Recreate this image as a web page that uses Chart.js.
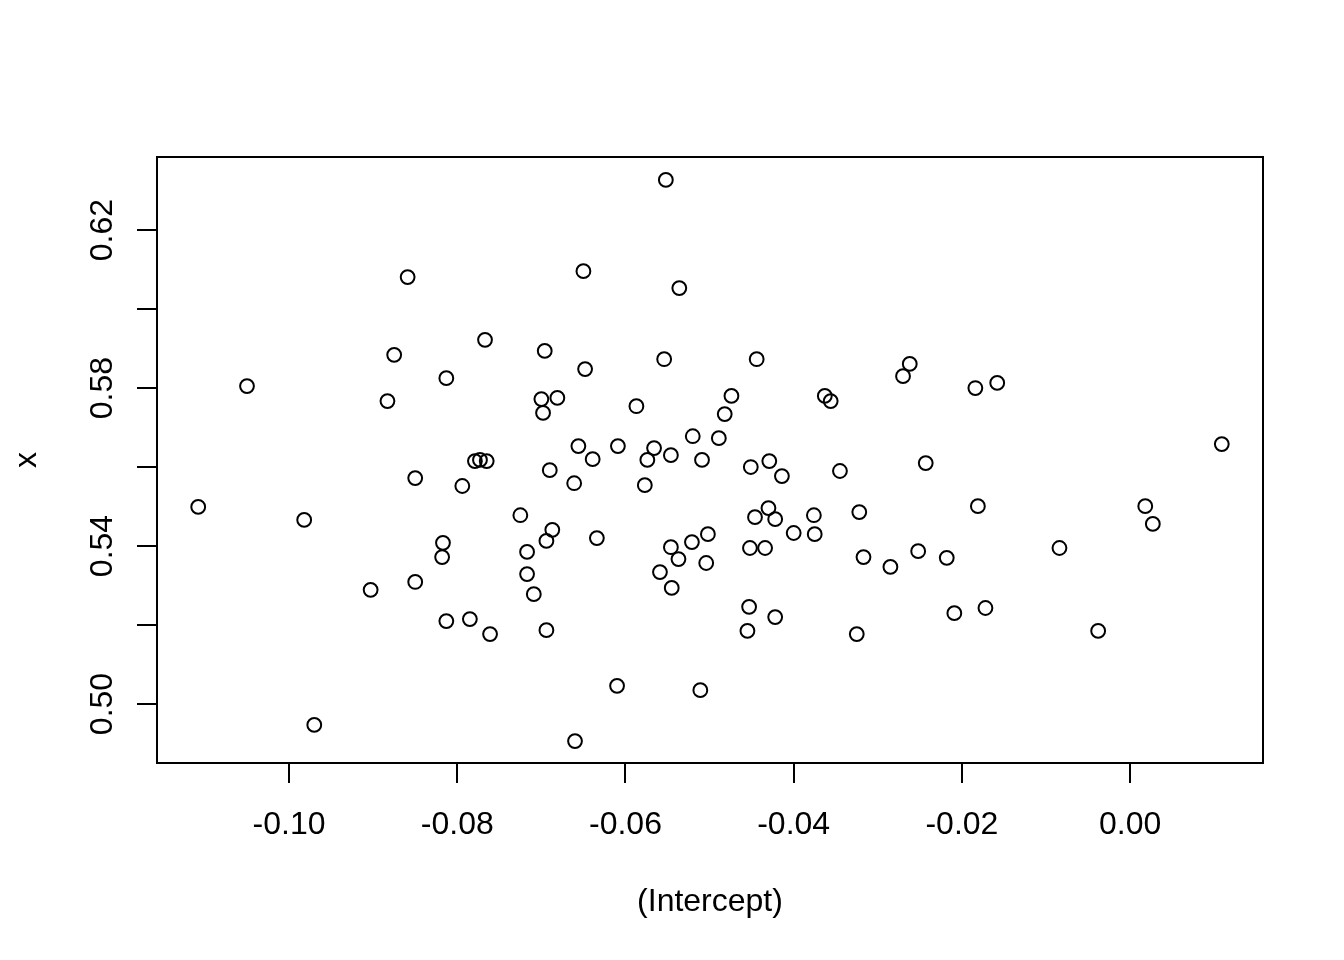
<!DOCTYPE html>
<html>
<head>
<meta charset="utf-8">
<script src="https://cdn.jsdelivr.net/npm/chart.js@4/dist/chart.umd.min.js"></script>
<style>
  html, body { margin: 0; padding: 0; background: #fff; }
  canvas { display: block; }
</style>
</head>
<body>
<canvas id="plot" width="1344" height="960"></canvas>
<script>
// values, one point per pair
const interceptValues = [
  -0.1108, -0.1050, -0.0982, -0.0970, -0.0903, -0.0883, -0.0875, -0.0859, -0.0850, -0.0850,
  -0.0817, -0.0818, -0.0813, -0.0813, -0.0794, -0.0785, -0.0779, -0.0773, -0.0765, -0.0767,
  -0.0761, -0.0725, -0.0717, -0.0717, -0.0709, -0.0700, -0.0698, -0.0696, -0.0694, -0.0694,
  -0.0690, -0.0687, -0.0681, -0.0661, -0.0660, -0.0656, -0.0650, -0.0648, -0.0639, -0.0634,
  -0.0610, -0.0609, -0.0587, -0.0577, -0.0574, -0.0566, -0.0559, -0.0554, -0.0552, -0.0546,
  -0.0546, -0.0545, -0.0537, -0.0536, -0.0521, -0.0520, -0.0511, -0.0509, -0.0504, -0.0502,
  -0.0489, -0.0482, -0.0474, -0.0455, -0.0453, -0.0452, -0.0451, -0.0446, -0.0444, -0.0434,
  -0.0430, -0.0429, -0.0422, -0.0422, -0.0414, -0.0400, -0.0376, -0.0375, -0.0363, -0.0356,
  -0.0345, -0.0325, -0.0322, -0.0317, -0.0285, -0.0270, -0.0262, -0.0252, -0.0243, -0.0218,
  -0.0209, -0.0184, -0.0181, -0.0172, -0.0158, -0.0084, -0.0038, 0.0018, 0.0027, 0.0109
];
const xValues = [
  0.5499, 0.5805, 0.5466, 0.4947, 0.5289, 0.5767, 0.5884, 0.6081, 0.5572, 0.5309,
  0.5408, 0.5372, 0.5825, 0.5210, 0.5552, 0.5215, 0.5615, 0.5618, 0.5615, 0.5922,
  0.5177, 0.5478, 0.5385, 0.5329, 0.5278, 0.5772, 0.5737, 0.5894, 0.5413, 0.5187,
  0.5592, 0.5441, 0.5775, 0.5559, 0.4906, 0.5653, 0.6096, 0.5848, 0.5620, 0.5420,
  0.5046, 0.5653, 0.5754, 0.5554, 0.5618, 0.5648, 0.5334, 0.5873, 0.6327, 0.5397,
  0.5630, 0.5294, 0.5367, 0.6053, 0.5410, 0.5678, 0.5035, 0.5618, 0.5357, 0.5430,
  0.5673, 0.5734, 0.5780, 0.5185, 0.5246, 0.5395, 0.5600, 0.5473, 0.5873, 0.5395,
  0.5496, 0.5615, 0.5468, 0.5220, 0.5577, 0.5433, 0.5478, 0.5430, 0.5780, 0.5767,
  0.5590, 0.5177, 0.5486, 0.5372, 0.5347, 0.5830, 0.5861, 0.5387, 0.5610, 0.5370,
  0.5230, 0.5800, 0.5501, 0.5243, 0.5813, 0.5395, 0.5185, 0.5501, 0.5456, 0.5658
];

const xTicks = [-0.10, -0.08, -0.06, -0.04, -0.02, 0.00];
const yTicks = [0.50, 0.52, 0.54, 0.56, 0.58, 0.60, 0.62];
const yLabelTicks = [0.50, 0.54, 0.58, 0.62];

const FONT = 'Liberation Sans, Arial, Helvetica, sans-serif';

// box round the plot region, like R's box()
const boxPlugin = {
  id: 'box',
  afterDraw(chart) {
    const { ctx, chartArea: a } = chart;
    ctx.save();
    ctx.strokeStyle = '#000';
    ctx.lineWidth = 2;
    ctx.strokeRect(a.left, a.top, a.right - a.left, a.bottom - a.top);
    ctx.restore();
  }
};

// y tick labels are turned 90 degrees in R (las = 0)
const yLabelPlugin = {
  id: 'yLabels',
  afterDraw(chart) {
    const { ctx } = chart;
    const ys = chart.scales.y;
    ctx.save();
    ctx.fillStyle = '#000';
    ctx.font = '32px ' + FONT;
    ctx.textAlign = 'center';
    ctx.textBaseline = 'alphabetic';
    yLabelTicks.forEach(v => {
      ctx.save();
      ctx.translate(112, ys.getPixelForValue(v));
      ctx.rotate(-Math.PI / 2);
      ctx.fillText(v.toFixed(2), 0, 0);
      ctx.restore();
    });
    ctx.restore();
  }
};

new Chart(document.getElementById('plot'), {
  type: 'scatter',
  data: {
    datasets: [{
      data: interceptValues.map((v, i) => ({ x: v, y: xValues[i] })),
      pointStyle: 'circle',
      pointRadius: 6.9,
      pointHoverRadius: 6.9,
      borderWidth: 2,
      borderColor: '#000',
      backgroundColor: 'rgba(0,0,0,0)',
      clip: false
    }]
  },
  options: {
    responsive: false,
    animation: false,
    devicePixelRatio: 1,
    layout: { padding: { left: 0, top: 157, right: 81, bottom: 0 } },
    plugins: { legend: { display: false }, tooltip: { enabled: false } },
    scales: {
      x: {
        type: 'linear',
        min: -0.1157,
        max: 0.0158,
        afterBuildTicks: s => { s.ticks = xTicks.map(v => ({ value: v })); },
        afterFit: s => { s.height = 197; },
        border: { display: false },
        grid: { drawOnChartArea: false, drawTicks: true, tickLength: 20, color: '#000', lineWidth: 2 },
        ticks: {
          color: '#000',
          padding: 23,
          maxRotation: 0,
          font: { family: FONT, size: 32 },
          callback: v => v.toFixed(2)
        },
        title: {
          display: true,
          text: '(Intercept)',
          color: '#000',
          font: { family: FONT, size: 32 },
          padding: { top: 0, bottom: 39 }
        }
      },
      y: {
        type: 'linear',
        min: 0.48506,
        max: 0.6385,
        afterBuildTicks: s => { s.ticks = yTicks.map(v => ({ value: v })); },
        afterFit: s => { s.width = 157; },
        border: { display: false },
        grid: { drawOnChartArea: false, drawTicks: true, tickLength: 20, color: '#000', lineWidth: 2 },
        ticks: { display: true, callback: () => '' },
        title: {
          display: true,
          text: 'x',
          color: '#000',
          font: { family: FONT, size: 32 },
          padding: { top: 8, bottom: 0 }
        }
      }
    }
  },
  plugins: [boxPlugin, yLabelPlugin]
});
</script>
</body>
</html>
